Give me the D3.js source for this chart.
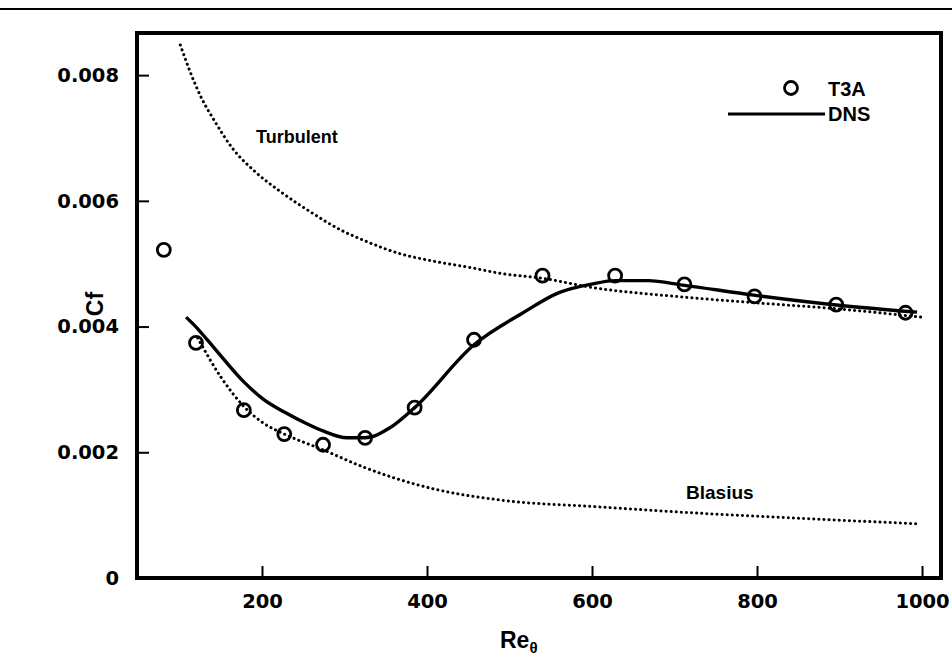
<!DOCTYPE html>
<html>
<head>
<meta charset="utf-8">
<script src="https://cdn.jsdelivr.net/npm/d3@7"></script>
<style>
  html, body { margin: 0; padding: 0; background: #fff; }
  svg { display: block; }
</style>
</head>
<body>
<svg id="chart" width="952" height="657"></svg>
<script>
// Skin-friction coefficient versus momentum-thickness Reynolds number
const xTicks = [200, 400, 600, 800, 1000];
const yTicks = [0, 0.002, 0.004, 0.006, 0.008];
const yTickLabels = ["0", "0.002", "0.004", "0.006", "0.008"];

// T3A experiment (symbols)
const reT3A = [81, 120, 178, 227, 274, 325, 385, 457, 540, 628, 712, 797, 896, 980];
const cfT3A = [0.00522, 0.00374, 0.00267, 0.00229, 0.00212, 0.00223, 0.00271, 0.00379,
               0.00481, 0.00481, 0.00467, 0.00448, 0.00435, 0.00422];

// DNS (solid curve)
const reDNS = [108, 121, 133, 153, 178, 201, 227, 255, 274, 303, 325, 355, 385, 457, 514, 560, 601, 628, 668, 710, 796, 899, 994];
const cfDNS = [0.00415, 0.00398, 0.00380, 0.00349, 0.00312, 0.00285, 0.00264, 0.00245, 0.00234, 0.00223,
               0.00223, 0.00239, 0.00271, 0.00371, 0.00420, 0.00454, 0.00468, 0.00473, 0.00473, 0.00466,
               0.00450, 0.00434, 0.00423];

// Turbulent correlation (dotted)
const reTurb = [101, 113, 125, 143, 164, 192, 222, 258, 295, 331, 367, 404, 452, 492, 539, 601, 710, 796, 899, 999];
const cfTurb = [0.00848, 0.00805, 0.00768, 0.00726, 0.00684, 0.00646, 0.00615, 0.00583, 0.00554, 0.00533,
                0.00516, 0.00505, 0.00494, 0.00484, 0.00477, 0.00462, 0.00447, 0.00438, 0.00428, 0.00415];

// Blasius laminar solution (dotted)
const reBlas = [122, 150, 178, 201, 227, 274, 322, 404, 489, 610, 731, 852, 998];
const cfBlas = [0.00382, 0.00320, 0.00273, 0.00247, 0.00229, 0.00204, 0.00177, 0.00143, 0.00124,
                0.00113, 0.00103, 0.00095, 0.00086];

const svg = d3.select("#chart");
const plotLeft = 137, plotRight = 941, plotTop = 33, plotBottom = 578;
const numFont = "'DejaVu Sans', sans-serif";
const wordFont = "'Liberation Sans', Arial, sans-serif";

const x = d3.scaleLinear().domain([48.5, 1023]).range([plotLeft, plotRight]);
const y = d3.scaleLinear().domain([0, 0.00867]).range([plotBottom, plotTop]);

// page rule above the figure
svg.append("line").attr("x1", 0).attr("x2", 952).attr("y1", 9).attr("y2", 9)
  .attr("stroke", "#000").attr("stroke-width", 2);

// frame
svg.append("rect").attr("x", plotLeft).attr("y", plotTop)
  .attr("width", plotRight - plotLeft).attr("height", plotBottom - plotTop)
  .attr("fill", "none").attr("stroke", "#000").attr("stroke-width", 4);

// axes with inward ticks
const xAxis = d3.axisBottom(x).tickValues(xTicks).tickSize(-12).tickPadding(18).tickFormat(d3.format("d"));
const gx = svg.append("g").attr("transform", `translate(0,${plotBottom})`).call(xAxis);
gx.select(".domain").remove();
gx.selectAll(".tick line").attr("stroke", "#000").attr("stroke-width", 2);

const yAxis = d3.axisLeft(y).tickValues(yTicks).tickSize(-12).tickPadding(18)
  .tickFormat((d, i) => yTickLabels[i]);
const gy = svg.append("g").attr("transform", `translate(${plotLeft},0)`).call(yAxis);
gy.select(".domain").remove();
gy.selectAll(".tick line").attr("stroke", "#000").attr("stroke-width", 2);

[gx, gy].forEach(g => {
  g.attr("font-size", null).attr("font-family", null);
  g.selectAll(".tick text")
    .style("font-family", numFont).style("font-weight", "bold")
    .style("font-size", "19.5px").attr("fill", "#000");
});
gx.selectAll(".tick text").attr("dy", "0.6em");

// axis titles
const xt = svg.append("text").attr("x", 500).attr("y", 648)
  .style("font-family", wordFont).style("font-weight", "bold").style("font-size", "23px").text("Re");
xt.append("tspan").attr("dy", 5).style("font-size", "15px").text("θ");

svg.append("text")
  .attr("transform", "translate(103,304) rotate(-90)")
  .attr("text-anchor", "middle")
  .style("font-family", wordFont).style("font-weight", "bold").style("font-size", "23px").text("Cf");

// curves
const line = (xs, ys) => d3.line().curve(d3.curveMonotoneX)
  .x((d, i) => x(xs[i])).y((d, i) => y(ys[i]))(xs);

[[reTurb, cfTurb], [reBlas, cfBlas]].forEach(([xs, ys]) => {
  svg.append("path").attr("d", line(xs, ys))
    .attr("fill", "none").attr("stroke", "#000").attr("stroke-width", 3)
    .attr("stroke-linecap", "round").attr("stroke-dasharray", "0.1,5");
});

svg.append("path").attr("d", line(reDNS, cfDNS))
  .attr("fill", "none").attr("stroke", "#000").attr("stroke-width", 3.4)
  .attr("stroke-linejoin", "round");

svg.append("g").selectAll("circle").data(reT3A).join("circle")
  .attr("cx", (d) => x(d)).attr("cy", (d, i) => y(cfT3A[i]))
  .attr("r", 6.5).attr("fill", "none").attr("stroke", "#000").attr("stroke-width", 2.8);

// curve labels
svg.append("text").attr("x", 256).attr("y", 143)
  .style("font-family", wordFont).style("font-weight", "bold").style("font-size", "18px").text("Turbulent");
svg.append("text").attr("x", 686).attr("y", 499)
  .style("font-family", wordFont).style("font-weight", "bold").style("font-size", "19px").text("Blasius");

// legend
svg.append("circle").attr("cx", 791).attr("cy", 88).attr("r", 6.5)
  .attr("fill", "none").attr("stroke", "#000").attr("stroke-width", 2.8);
svg.append("text").attr("x", 828).attr("y", 96)
  .style("font-family", wordFont).style("font-weight", "bold").style("font-size", "20px").text("T3A");
svg.append("line").attr("x1", 728).attr("x2", 825).attr("y1", 114).attr("y2", 114)
  .attr("stroke", "#000").attr("stroke-width", 3.2);
svg.append("text").attr("x", 828).attr("y", 121)
  .style("font-family", wordFont).style("font-weight", "bold").style("font-size", "20px").text("DNS");
</script>
</body>
</html>
